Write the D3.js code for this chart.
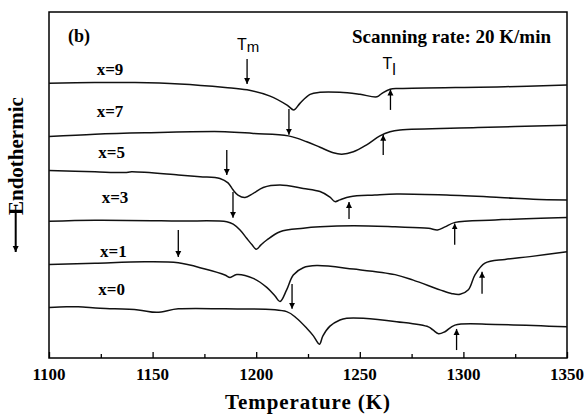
<!DOCTYPE html>
<html>
<head>
<meta charset="utf-8">
<script src="https://cdn.jsdelivr.net/npm/d3@7"></script>
<style>
  html, body { margin: 0; padding: 0; background: #fff; }
  svg { display: block; }
</style>
</head>
<body>
<svg id="chart" width="584" height="414"></svg>
<script>
// DSC heating traces, [temperature (K), heat flow (a.u., stacked with offsets)]
const curveX9 = [[1100,79.4],[1122,79.6],[1141.5,79.6],[1163,79.2],[1185,78.2],[1195.6,77.5],[1206.7,75.7],[1214.9,73.1],[1218.2,71.7],[1221.1,73.6],[1226,76.2],[1230.8,76.8],[1240.4,76.8],[1250.1,76.2],[1258.3,75.5],[1260.7,76.5],[1264.6,77.7],[1269.4,77.9],[1320.1,78.4],[1350,78.9]];
const curveX7 = [[1100,64.0],[1122.2,64.7],[1146.3,65.1],[1184.9,65.4],[1198.6,64.9],[1215.5,64.2],[1224.4,62.5],[1230.8,60.9],[1237.2,59.3],[1241.3,58.9],[1246.9,59.6],[1253.3,61.6],[1259.7,64.2],[1264.6,65.4],[1269.4,65.9],[1307,66.6],[1350,67.3]];
const curveX5 = [[1100,54.2],[1122.2,53.8],[1136.7,53.6],[1139.9,53.8],[1162.4,52.9],[1172.9,52.4],[1182.5,51.9],[1186.4,50.6],[1188.8,48.6],[1191.2,47.1],[1194.6,46.4],[1198.6,47.6],[1203.4,49.3],[1211.5,50.0],[1222.7,49.0],[1230.8,48.1],[1235.6,46.5],[1238,45.2],[1240.4,45.7],[1245.3,46.6],[1257.3,47.1],[1267.8,47.4],[1291.9,47.1],[1317.7,46.4],[1333.7,45.9],[1350,45.7]];
const curveX3 = [[1100,39.5],[1122.2,39.8],[1162.4,39.6],[1185.8,39.4],[1188.9,38.7],[1192.2,37.0],[1195.4,34.6],[1198,32.7],[1200.1,31.4],[1202.3,32.7],[1205.1,34.1],[1211.5,36.5],[1222.7,37.5],[1230.8,37.9],[1246.9,38.2],[1267,37.9],[1283.1,37.5],[1287.5,37.0],[1291.1,37.9],[1296,39.2],[1315.3,39.9],[1350,40.6]];
const curveX1 = [[1100,27.0],[1122.2,27.4],[1146.3,27.8],[1162.4,27.5],[1175.3,25.7],[1184.9,24.0],[1187.4,23.3],[1190.6,24.1],[1198.6,23.0],[1205.1,20.4],[1209.1,17.9],[1211.5,16.3],[1214.7,19.7],[1217.9,24.0],[1222.7,26.1],[1229.2,26.7],[1246.9,25.7],[1267,24.1],[1275.8,22.5],[1288.7,19.7],[1294.5,18.6],[1298.4,18.4],[1302.4,19.7],[1305.6,24.0],[1310.4,27.4],[1320.1,28.5],[1332.1,29.3],[1350,30.7]];
const curveX0 = [[1100,14.6],[1108.5,14.8],[1114.1,14.8],[1124.6,14.4],[1143.1,13.9],[1152,13.2],[1162.4,14.2],[1184.9,14.2],[1214.7,13.4],[1219.5,11.5],[1224.4,8.6],[1227.6,6.4],[1230.5,4.0],[1232.2,6.4],[1235.6,9.2],[1240.4,11.0],[1243.7,11.5],[1251.7,11.5],[1267.8,10.5],[1283.1,9.0],[1285.3,8.1],[1288,7.0],[1291.1,7.6],[1295.9,9.5],[1315.3,9.7],[1350,9.0]];

const seriesNames = ["x=9", "x=7", "x=5", "x=3", "x=1", "x=0"];
const seriesCurves = [curveX9, curveX7, curveX5, curveX3, curveX1, curveX0];

// Melting onset (Tm) markers: [T, from, to] — arrows pointing down
const meltArrows = [[1195.6,86.4,79.2],[1215.8,72.0,64.5],[1185.8,60.1,52.9],[1188.8,48.0,40.5],[1162.4,37.0,29.2],[1217.3,21.4,14.2]];
// Liquidus (Tl) markers: [T, from, to] — arrows pointing up
const liquidusArrows = [[1264.8,71.7,77.6],[1261.3,58.7,64.5],[1244.8,40.2,45.1],[1295.8,32.7,38.9],[1309.0,18.6,24.9],[1296.7,2.3,8.4]];

const majorTicks = [1100, 1150, 1200, 1250, 1300, 1350];
const minorTicks = [1125, 1175, 1225, 1275, 1325];
const tickLabels = ["1100", "1150", "1200", "1250", "1300", "1350"];

const svg = d3.select("#chart");
const margin = { left: 49, top: 12, right: 17, bottom: 56 };
const W = 584, H = 414;
const plotW = W - margin.left - margin.right;
const plotH = H - margin.top - margin.bottom;

const x = d3.scaleLinear().domain([1100, 1350]).range([margin.left, margin.left + plotW]);
const y = d3.scaleLinear().domain([0, 100]).range([margin.top + plotH, margin.top]);

const serif = "Liberation Serif";
const sans = "Liberation Sans";

svg.append("rect").attr("width", W).attr("height", H).attr("fill", "#fff");

// arrowhead marker
const defs = svg.append("defs");
defs.append("marker")
  .attr("id", "head")
  .attr("viewBox", "0 0 10 10")
  .attr("refX", 10).attr("refY", 5)
  .attr("markerUnits", "userSpaceOnUse")
  .attr("markerWidth", 6).attr("markerHeight", 8)
  .attr("orient", "auto")
  .append("path").attr("d", "M0,0 L10,5 L0,10 Z").attr("fill", "#000");

// bottom axis ticks (inward), major and minor
const axisG = svg.append("g").attr("transform", `translate(0,${margin.top + plotH})`);
axisG.append("g").call(d3.axisBottom(x).tickValues(majorTicks).tickSize(-6).tickFormat(""));
axisG.append("g").call(d3.axisBottom(x).tickValues(minorTicks).tickSize(-4).tickFormat(""));
axisG.selectAll(".domain").remove();
axisG.selectAll("line").attr("stroke", "#000").attr("stroke-width", 1.3);

// tick labels
svg.append("g").selectAll("text").data(majorTicks).join("text")
  .attr("x", d => x(d)).attr("y", 380)
  .attr("text-anchor", "middle")
  .style("font-family", serif).style("font-weight", "bold").style("font-size", "17px")
  .text((d, i) => tickLabels[i]);

// frame
svg.append("rect")
  .attr("x", margin.left).attr("y", margin.top)
  .attr("width", plotW).attr("height", plotH)
  .attr("fill", "none").attr("stroke", "#000").attr("stroke-width", 1.5);

// traces
const line = d3.line().x(d => x(d[0])).y(d => y(d[1])).curve(d3.curveCatmullRom.alpha(0.5));
svg.append("g").selectAll("path").data(seriesCurves).join("path")
  .attr("d", line)
  .attr("fill", "none").attr("stroke", "#111").attr("stroke-width", 1.5);

// series labels
const labelPos = [[96.7, 74.5], [96.7, 116.5], [98.3, 158.3], [101.7, 203], [100, 256.5], [98.3, 295]];
svg.append("g").selectAll("text").data(seriesNames).join("text")
  .attr("x", (d, i) => labelPos[i][0]).attr("y", (d, i) => labelPos[i][1])
  .style("font-family", serif).style("font-weight", "bold").style("font-size", "17px")
  .text(d => d);

// arrows
svg.append("g").selectAll("line").data(meltArrows.concat(liquidusArrows)).join("line")
  .attr("x1", d => x(d[0])).attr("x2", d => x(d[0]))
  .attr("y1", d => y(d[1])).attr("y2", d => y(d[2]))
  .attr("stroke", "#000").attr("stroke-width", 1.3)
  .attr("marker-end", "url(#head)");

// Tm / Tl labels
const tm = svg.append("text").attr("x", 237).attr("y", 50)
  .style("font-family", sans).style("font-size", "16px");
tm.append("tspan").text("T");
tm.append("tspan").attr("dy", 2).style("font-size", "15px").text("m");

const tl = svg.append("text").attr("x", 382.5).attr("y", 69)
  .style("font-family", sans).style("font-size", "16px");
tl.append("tspan").text("T");
tl.append("tspan").attr("dy", 6).text("l");

// panel tag and rate note
svg.append("text").attr("x", 68).attr("y", 42)
  .style("font-family", serif).style("font-weight", "bold").style("font-size", "18px").text("(b)");
svg.append("text").attr("x", 551).attr("y", 43).attr("text-anchor", "end")
  .style("font-family", serif).style("font-weight", "bold").style("font-size", "19px")
  .text("Scanning rate: 20 K/min");

// axis titles
svg.append("text").attr("x", 307.5).attr("y", 409).attr("text-anchor", "middle")
  .style("font-family", serif).style("font-weight", "bold").style("font-size", "21px")
  .attr("textLength", 165).attr("lengthAdjust", "spacing")
  .text("Temperature (K)");

svg.append("text").attr("transform", "translate(23,215) rotate(-90)")
  .style("font-family", serif).style("font-weight", "bold").style("font-size", "21px")
  .text("Endothermic");
svg.append("line").attr("x1", 15.7).attr("x2", 15.7).attr("y1", 213).attr("y2", 252)
  .attr("stroke", "#000").attr("stroke-width", 2).attr("marker-end", "url(#head)");
</script>
</body>
</html>
